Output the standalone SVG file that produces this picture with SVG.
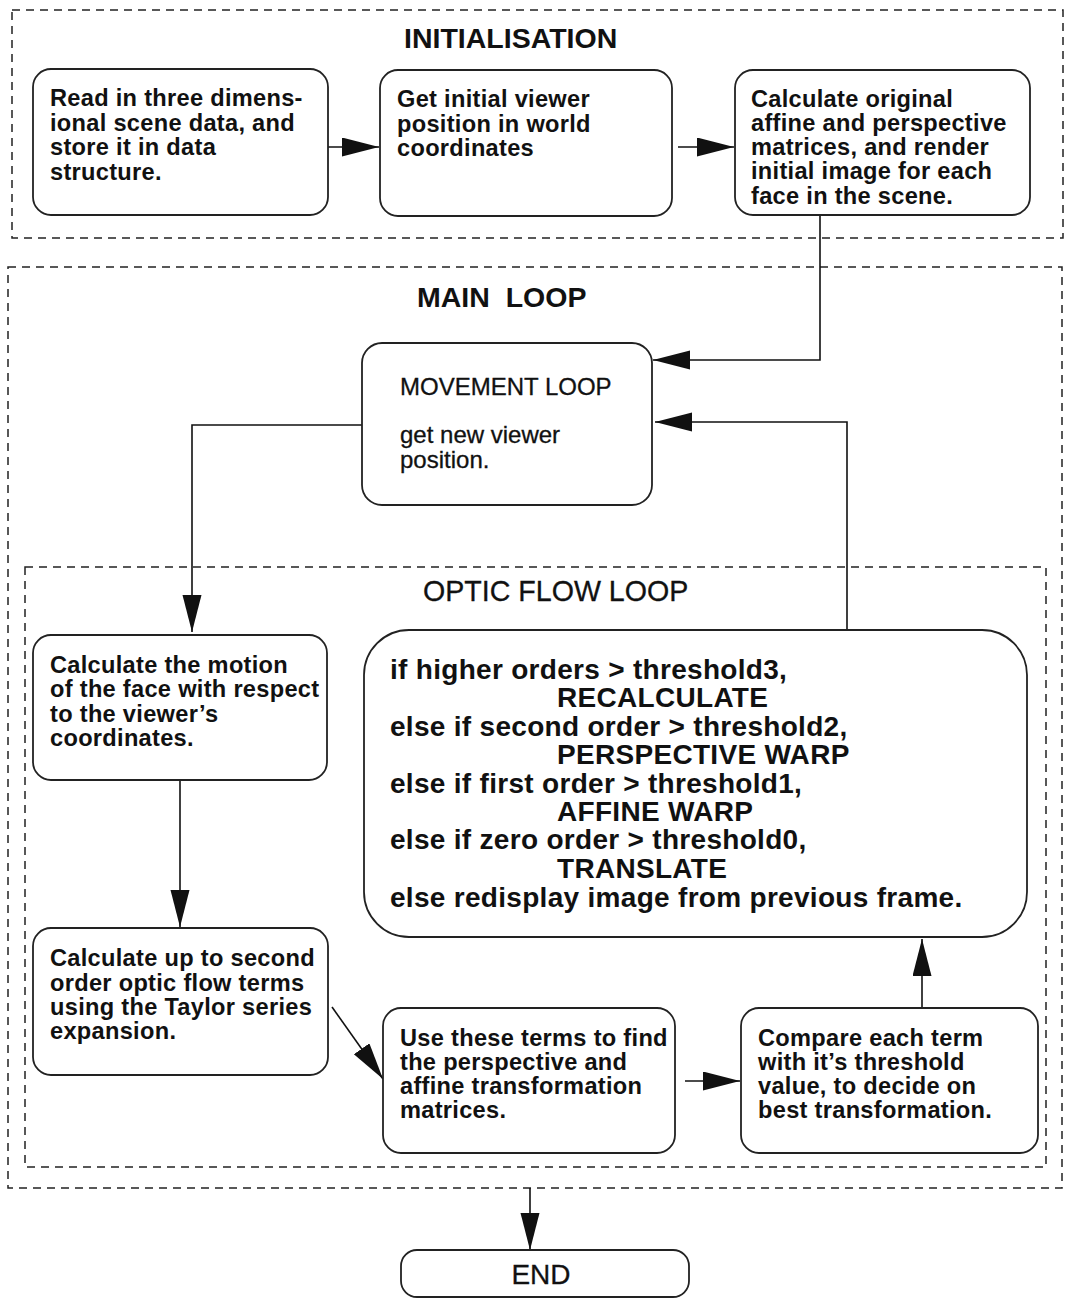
<svg xmlns="http://www.w3.org/2000/svg" width="1069" height="1301" viewBox="0 0 1069 1301">
  <defs>
    <marker id="arrow" markerUnits="userSpaceOnUse" markerWidth="38" markerHeight="20" refX="37" refY="9.5" orient="auto">
      <path d="M0,0 L37,9.5 L0,19 z" fill="#111"/>
    </marker>
    <style>
      .frame { fill: none; stroke: #222; stroke-width: 1.5; stroke-dasharray: 8 6; }
      .box { fill: #fff; stroke: #222; stroke-width: 1.8; }
      .conn { fill: none; stroke: #111; stroke-width: 1.6; marker-end: url(#arrow); }
      .t { font-family: "Liberation Sans", Arial, Helvetica, sans-serif; font-weight: bold; font-size: 23.6px; letter-spacing: 0.3px; fill: #111; }
      .big { font-family: "Liberation Sans", Arial, Helvetica, sans-serif; font-weight: bold; font-size: 28px; letter-spacing: 0.3px; fill: #111; }
      .title { font-family: "Liberation Sans", Arial, Helvetica, sans-serif; font-weight: bold; font-size: 28.5px; fill: #111; }
      .reg { font-family: "Liberation Sans", Arial, Helvetica, sans-serif; font-weight: normal; fill: #111; stroke: #111; stroke-width: 0.3; }
    </style>
  </defs>

  <rect width="1069" height="1301" fill="#fff"/>

  <!-- dashed loop frames -->
  <g id="frames">
    <rect class="frame" x="12" y="10" width="1051" height="228"/>
    <rect class="frame" x="8" y="267" width="1054" height="921"/>
    <rect class="frame" x="25" y="567" width="1021" height="600"/>
    <text class="title" x="404" y="48">INITIALISATION</text>
    <text class="title" x="417" y="307" xml:space="preserve">MAIN  LOOP</text>
    <text class="reg" x="423" y="601" font-size="28.6">OPTIC FLOW LOOP</text>
  </g>

  <!-- connectors -->
  <g id="connectors">
    <path class="conn" d="M328,147 L379,147"/>
    <path class="conn" d="M678,147 L734,147"/>
    <path class="conn" d="M820,215 L820,360 L653,360"/>
    <path class="conn" d="M847,630 L847,422 L655,422"/>
    <path class="conn" d="M362,425 L192,425 L192,632"/>
    <path class="conn" d="M180,780 L180,927"/>
    <path class="conn" d="M332,1007 L383,1079"/>
    <path class="conn" d="M685,1081 L740,1081"/>
    <path class="conn" d="M922,1008 L922,939"/>
    <path class="conn" d="M530,1188 L530,1250"/>
  </g>

  <g id="read-scene">
    <rect class="box" x="33" y="69" width="295" height="146" rx="18"/>
    <text class="t" x="50" y="106">Read in three dimens-</text>
    <text class="t" x="50" y="131">ional scene data, and</text>
    <text class="t" x="50" y="155">store it in data</text>
    <text class="t" x="50" y="180">structure.</text>
  </g>

  <g id="initial-viewer">
    <rect class="box" x="380" y="70" width="292" height="146" rx="18"/>
    <text class="t" x="397" y="107">Get initial viewer</text>
    <text class="t" x="397" y="132">position in world</text>
    <text class="t" x="397" y="156">coordinates</text>
  </g>

  <g id="original-matrices">
    <rect class="box" x="735" y="70" width="295" height="145" rx="18"/>
    <text class="t" x="751" y="107">Calculate original</text>
    <text class="t" x="751" y="131">affine and perspective</text>
    <text class="t" x="751" y="155">matrices, and render</text>
    <text class="t" x="751" y="179">initial image for each</text>
    <text class="t" x="751" y="204">face in the scene.</text>
  </g>

  <g id="movement-loop">
    <rect class="box" x="362" y="343" width="290" height="162" rx="20"/>
    <text class="reg" x="400" y="395" font-size="24">MOVEMENT LOOP</text>
    <text class="reg" x="400" y="443" font-size="24">get new viewer</text>
    <text class="reg" x="400" y="468" font-size="24">position.</text>
  </g>

  <g id="face-motion">
    <rect class="box" x="33" y="635" width="294" height="145" rx="18"/>
    <text class="t" x="50" y="673">Calculate the motion</text>
    <text class="t" x="50" y="697">of the face with respect</text>
    <text class="t" x="50" y="722">to the viewer’s</text>
    <text class="t" x="50" y="746">coordinates.</text>
  </g>

  <g id="optic-flow-terms">
    <rect class="box" x="33" y="928" width="295" height="147" rx="18"/>
    <text class="t" x="50" y="966">Calculate up to second</text>
    <text class="t" x="50" y="991">order optic flow terms</text>
    <text class="t" x="50" y="1015">using the Taylor series</text>
    <text class="t" x="50" y="1039">expansion.</text>
  </g>

  <g id="transformation-matrices">
    <rect class="box" x="383" y="1008" width="292" height="145" rx="18"/>
    <text class="t" x="400" y="1046">Use these terms to find</text>
    <text class="t" x="400" y="1070">the perspective and</text>
    <text class="t" x="400" y="1094">affine transformation</text>
    <text class="t" x="400" y="1118">matrices.</text>
  </g>

  <g id="compare-thresholds">
    <rect class="box" x="741" y="1008" width="297" height="145" rx="18"/>
    <text class="t" x="758" y="1046">Compare each term</text>
    <text class="t" x="758" y="1070">with it’s threshold</text>
    <text class="t" x="758" y="1094">value, to decide on</text>
    <text class="t" x="758" y="1118">best transformation.</text>
  </g>

  <g id="decision">
    <rect class="box" x="364" y="630" width="663" height="307" rx="45"/>
    <text class="big" x="390" y="679">if higher orders &gt; threshold3,</text>
    <text class="big" x="557" y="707">RECALCULATE</text>
    <text class="big" x="390" y="736">else if second order &gt; threshold2,</text>
    <text class="big" x="557" y="764">PERSPECTIVE WARP</text>
    <text class="big" x="390" y="793">else if first order &gt; threshold1,</text>
    <text class="big" x="557" y="821">AFFINE WARP</text>
    <text class="big" x="390" y="849">else if zero order &gt; threshold0,</text>
    <text class="big" x="557" y="878">TRANSLATE</text>
    <text class="big" x="390" y="907">else redisplay image from previous frame.</text>
  </g>

  <g id="end">
    <rect class="box" x="401" y="1250" width="288" height="47" rx="16"/>
    <text class="reg" x="541" y="1284" text-anchor="middle" font-size="28">END</text>
  </g>
</svg>
